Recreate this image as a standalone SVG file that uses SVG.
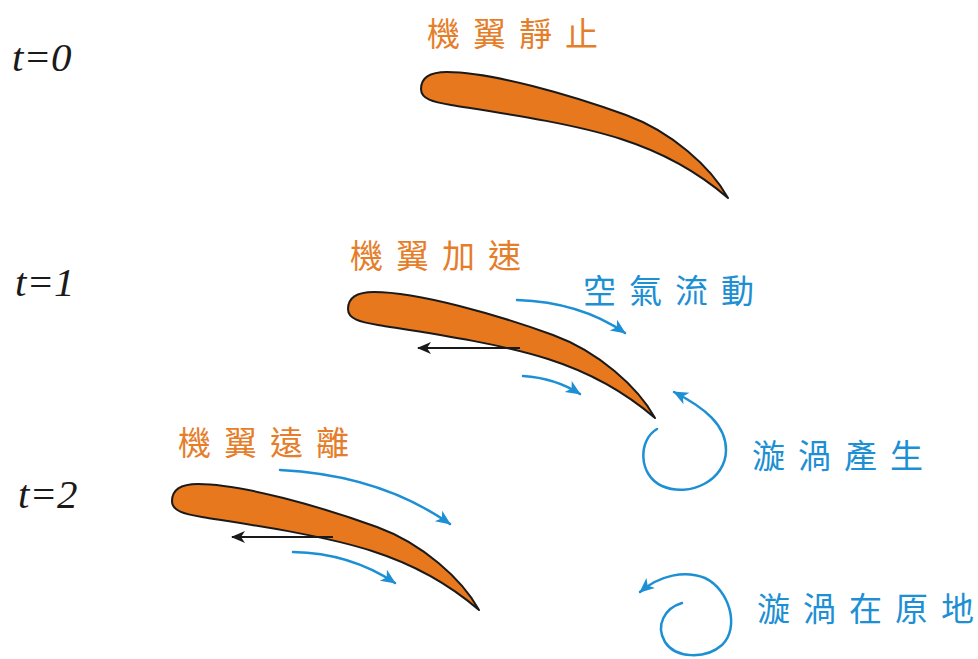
<svg xmlns="http://www.w3.org/2000/svg" width="978" height="659" viewBox="0 0 978 659">
  <style>
    .wing { fill: #e8781e; stroke: #1a1a1a; stroke-width: 2; stroke-linejoin: round; }
    .cjk { font-family: "Noto Sans CJK TC", "Noto Sans CJK SC", sans-serif; font-size: 33px; letter-spacing: 13px; }
    .orange { fill: #e57e2a; }
    .blue { fill: #1d8fd4; }
    .time { font-family: "Liberation Serif", serif; font-style: italic; font-size: 41px; fill: #1a1a1a; }
    .flow { fill: none; stroke: #1d8fd4; stroke-width: 2.5; stroke-linecap: round; marker-end: url(#ah-blue); }
    .drag { fill: none; stroke: #1a1a1a; stroke-width: 2; marker-end: url(#ah-black); }
  </style>
  <defs>
    <!-- cambered wing section, leading edge at the origin -->
    <path id="airfoil" d="M0,2 C0,-10 10,-15 26,-15 C70,-15 150,8 205,28 C250,44.4 290,80 307,111 C285,92 250,68 200,52 C150,36 80,26 30,18 C12,15 0,12 0,2 Z"/>
    <marker id="ah-blue" markerUnits="userSpaceOnUse" markerWidth="18" markerHeight="16" viewBox="-16 -8 18 16" refX="0" refY="0" orient="auto">
      <path d="M1,0 L-14,-6.5 L-10,0 L-14,6.5 Z" fill="#1d8fd4"/>
    </marker>
    <marker id="ah-black" markerUnits="userSpaceOnUse" markerWidth="18" markerHeight="16" viewBox="-16 -8 18 16" refX="0" refY="0" orient="auto">
      <path d="M1,0 L-13,-6 L-9,0 L-13,6 Z" fill="#1a1a1a"/>
    </marker>
  </defs>

  <rect width="978" height="659" fill="#ffffff"/>

  <!-- time labels -->
  <g id="time-labels">
    <text class="time" x="12" y="71">t=0</text>
    <text class="time" x="15" y="296">t=1</text>
    <text class="time" x="18" y="508">t=2</text>
  </g>

  <!-- wing at rest -->
  <g id="wing-rest">
    <use href="#airfoil" class="wing" transform="translate(421,87)"/>
    <text class="cjk orange" x="427" y="46">機翼靜止</text>
  </g>

  <!-- wing accelerating -->
  <g id="wing-accelerating">
    <use href="#airfoil" class="wing" transform="translate(348,307)"/>
    <text class="cjk orange" x="350" y="268">機翼加速</text>
  </g>

  <!-- wing moving away -->
  <g id="wing-leaving">
    <use href="#airfoil" class="wing" transform="translate(172,499)"/>
    <text class="cjk orange" x="178" y="455">機翼遠離</text>
  </g>

  <g id="label-airflow">
    <text class="cjk blue" x="583" y="303">空氣流動</text>
  </g>
  <g id="label-vortex-forms">
    <text class="cjk blue" x="752" y="468">漩渦產生</text>
  </g>
  <g id="label-vortex-stays">
    <text class="cjk blue" style="letter-spacing:0" x="757 803 849 895 941" y="621">漩渦在原地</text>
  </g>

  <!-- flow lines, drag arrows and vortices -->
  <g id="connectors">
    <path class="drag" d="M520,348 L418,348"/>
    <path class="drag" d="M333,537 L232,537"/>

    <path class="flow" d="M517,300 Q580,302 625,333"/>
    <path class="flow" d="M523,376 Q555,378 580,394"/>
    <path class="flow" d="M280,470 Q380,475 450,524"/>
    <path class="flow" d="M293,552 Q350,553 395,583"/>

    <path class="flow" d="M657,429 C638,440 638,475 662,486 C690,498 726,480 726,450 C726,425 705,408 674,392"/>
    <path class="flow" d="M682,603 C665,608 655,625 665,642 C675,658 705,660 722,645 C740,628 730,590 705,578 C685,570 660,575 640,592"/>
  </g>
</svg>
